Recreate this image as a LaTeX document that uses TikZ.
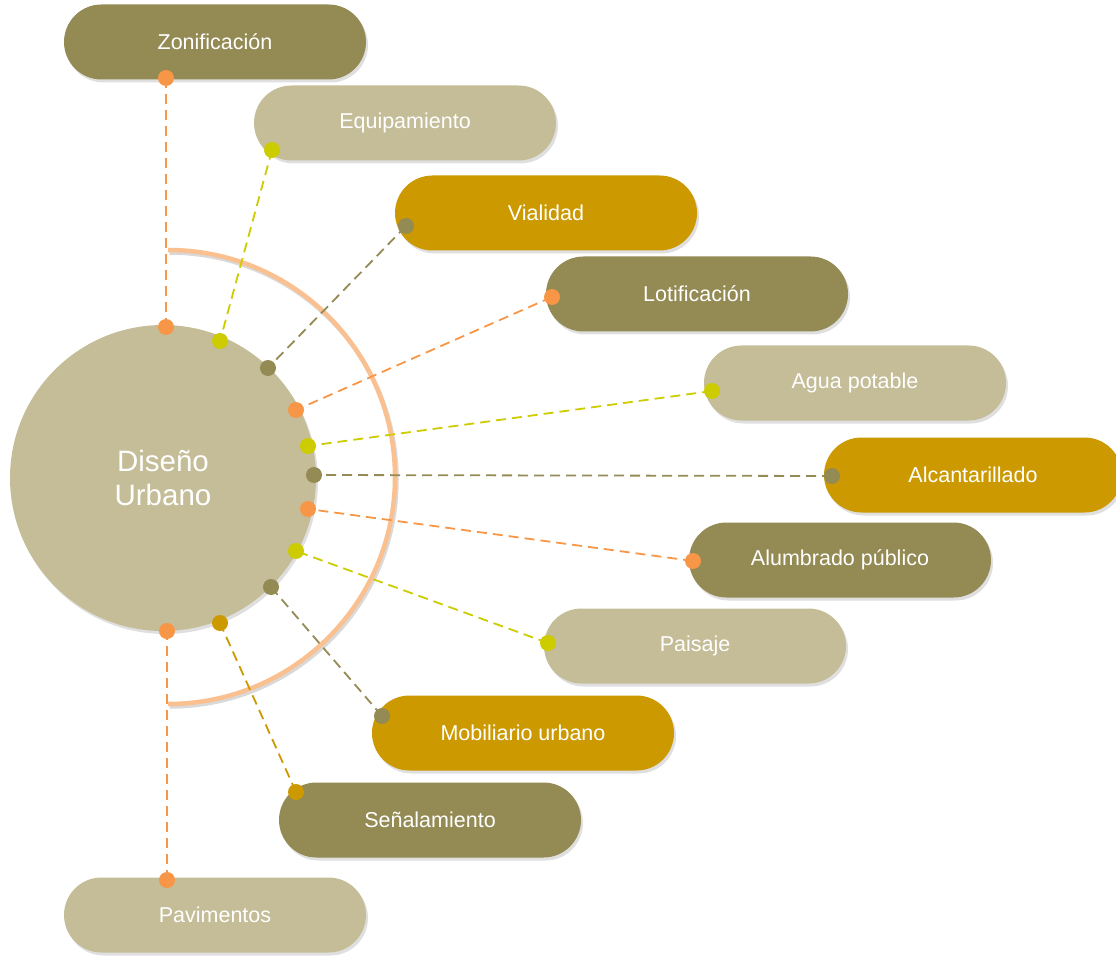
\documentclass[tikz,border=0pt]{standalone}
\usepackage{fontspec}
\setmainfont{Liberation Sans}
\usetikzlibrary{shadows,shapes.misc}
\definecolor{olive}{HTML}{948A54}
\definecolor{tan}{HTML}{C4BD97}
\definecolor{gold}{HTML}{CC9900}
\definecolor{orng}{HTML}{F79646}
\definecolor{yel}{HTML}{CCCC00}
\definecolor{arcc}{HTML}{FAC090}
\pgfdeclarelayer{background}
\pgfdeclarelayer{mid}
\pgfsetlayers{background,mid,main}
\tikzset{
  shad/.style={drop shadow={opacity=0.18, shadow xshift=2pt, shadow yshift=-3pt, fill=black!70}},
  pill/.style={rounded rectangle, minimum width=302pt, minimum height=75pt, inner sep=0pt,
    text=white, font=\fontsize{21.5}{24}\selectfont, shad},
  dot/.style={circle, inner sep=0pt, minimum size=16pt},
  dline/.style={line width=1.8pt, dash pattern=on 10pt off 6pt},
}
\begin{document}
\begin{tikzpicture}[x=1pt,y=-1pt]
\useasboundingbox (0,0) rectangle (1116,957);
\begin{pgfonlayer}{background}
\draw[black!15, line width=4.5pt, xshift=1.5pt, yshift=-2.5pt] (168,250) arc[start angle=-90, end angle=90, radius=227];
\draw[arcc, line width=4.5pt] (168,250) arc[start angle=-90, end angle=90, radius=227];
\node[circle, fill=tan, minimum size=306pt, inner sep=0pt, text=white, align=center,
  font=\fontsize{29.5}{34}\selectfont, shad] (hub) at (163,478) {Diseño\\Urbano};
\node[pill, fill=olive] (zon) at (215,42) {Zonificación};
\node[pill, fill=tan] (equ) at (405,123) {Equipamiento};
\node[pill, fill=gold] (via) at (546,213) {Vialidad};
\node[pill, fill=olive] (lot) at (697,294) {Lotificación};
\node[pill, fill=tan] (agu) at (855,383) {Agua potable};
\node[pill, fill=gold, minimum width=298pt] (alc) at (973,475) {Alcantarillado};
\node[pill, fill=olive] (alu) at (840,560) {Alumbrado público};
\node[pill, fill=tan] (pai) at (695,646) {Paisaje};
\node[pill, fill=gold] (mob) at (523,733) {Mobiliario urbano};
\node[pill, fill=olive] (sen) at (430,820) {Señalamiento};
\node[pill, fill=tan] (pav) at (215,915) {Pavimentos};
\end{pgfonlayer}
% dots on boxes
\node[dot, fill=orng] (a1) at (166,78) {};
\node[dot, fill=yel] (a2) at (272,150) {};
\node[dot, fill=olive] (a3) at (406,226) {};
\node[dot, fill=orng] (a4) at (552,297) {};
\node[dot, fill=yel] (a5) at (712,391) {};
\node[dot, fill=olive] (a6) at (832,476) {};
\node[dot, fill=orng] (a7) at (693,561) {};
\node[dot, fill=yel] (a8) at (548,643) {};
\node[dot, fill=olive] (a9) at (382,716) {};
\node[dot, fill=gold] (a10) at (296,792) {};
\node[dot, fill=orng] (a11) at (167,880) {};
% dots on hub
\node[dot, fill=orng] (b1) at (166,327) {};
\node[dot, fill=yel] (b2) at (220,341) {};
\node[dot, fill=olive] (b3) at (268,368) {};
\node[dot, fill=orng] (b4) at (296,410) {};
\node[dot, fill=yel] (b5) at (308,446) {};
\node[dot, fill=olive] (b6) at (314,475) {};
\node[dot, fill=orng] (b7) at (308,509) {};
\node[dot, fill=yel] (b8) at (296,551) {};
\node[dot, fill=olive] (b9) at (271,587) {};
\node[dot, fill=gold] (b10) at (220,623) {};
\node[dot, fill=orng] (b11) at (167,631) {};
\begin{pgfonlayer}{mid}
\draw[dline, orng] (a1.center) -- (b1.center);
\draw[dline, yel] (a2.center) -- (b2.center);
\draw[dline, olive] (a3.center) -- (b3.center);
\draw[dline, orng] (a4.center) -- (b4.center);
\draw[dline, yel] (a5.center) -- (b5.center);
\draw[dline, olive] (a6.center) -- (b6.center);
\draw[dline, orng] (a7.center) -- (b7.center);
\draw[dline, yel] (a8.center) -- (b8.center);
\draw[dline, olive] (a9.center) -- (b9.center);
\draw[dline, gold] (a10.center) -- (b10.center);
\draw[dline, orng] (a11.center) -- (b11.center);
\end{pgfonlayer}
\end{tikzpicture}
\end{document}
